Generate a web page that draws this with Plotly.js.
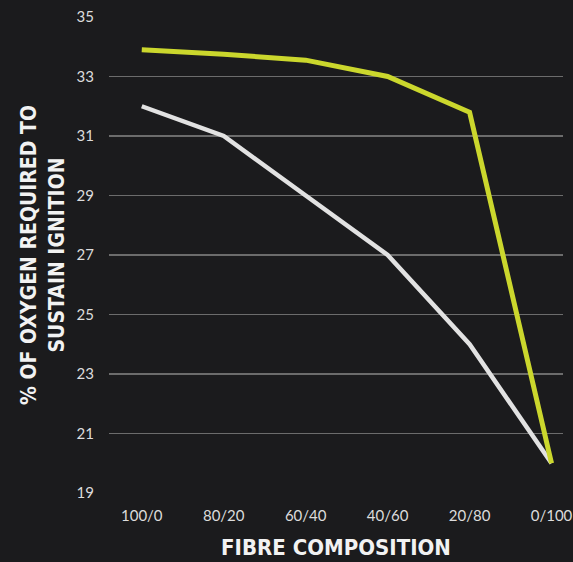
<!DOCTYPE html>
<html>
<head>
<meta charset="utf-8">
<script src="https://cdn.plot.ly/plotly-3.0.1.min.js"></script>
<style>html,body{margin:0;padding:0;background:#1b1b1d;}#chart{width:573px;height:562px;}</style>
</head>
<body>
<div id="chart"></div>
<script>
const categories = ["100/0", "80/20", "60/40", "40/60", "20/80", "0/100"];
const seriesYellow = [33.9, 33.75, 33.55, 33.0, 31.8, 20.0];
const seriesWhite = [32.0, 31.0, 29.0, 27.0, 24.0, 20.0];
const yTicks = [19, 21, 23, 25, 27, 29, 31, 33, 35];

const traces = [
  {x: categories, y: seriesWhite, type: "scatter", mode: "lines",
   line: {color: "#e2e2e2", width: 4.5}, hoverinfo: "skip"},
  {x: categories, y: seriesYellow, type: "scatter", mode: "lines",
   line: {color: "#cbd72d", width: 5}, hoverinfo: "skip"}
];

const layout = {
  width: 573, height: 562,
  paper_bgcolor: "#1b1b1d", plot_bgcolor: "#1b1b1d",
  margin: {l: 109, r: 10, t: 17, b: 69},
  showlegend: false,
  font: {family: "Lato, 'Open Sans', sans-serif", color: "#dcdcdc", size: 14},
  xaxis: {
    type: "category", range: [-0.4, 5.14], showgrid: false, zeroline: false,
    showline: false, ticks: "", ticklabelstandoff: 12,
    tickfont: {size: 15, color: "#dcdcdc"},
    title: {text: "FIBRE COMPOSITION", standoff: 16,
      font: {family: "'DejaVu Sans Condensed', 'DejaVu Sans', sans-serif", size: 22, color: "#f2f2f2", weight: "bold"}}
  },
  yaxis: {
    range: [19, 35], tickvals: yTicks, ticktext: yTicks.map(String),
    showgrid: true, gridcolor: "#6c6c6c", gridwidth: 1.5, zeroline: false,
    showline: false, ticks: "", ticklabelstandoff: 14,
    tickfont: {size: 15, color: "#dcdcdc"},
    title: {text: "% OF OXYGEN REQUIRED TO<br>SUSTAIN IGNITION", standoff: 6,
      font: {family: "'DejaVu Sans Condensed', 'DejaVu Sans', sans-serif", size: 21, color: "#f2f2f2", weight: "bold"}}
  }
};

Plotly.newPlot("chart", traces, layout, {displayModeBar: false, staticPlot: true});
</script>
</body>
</html>
